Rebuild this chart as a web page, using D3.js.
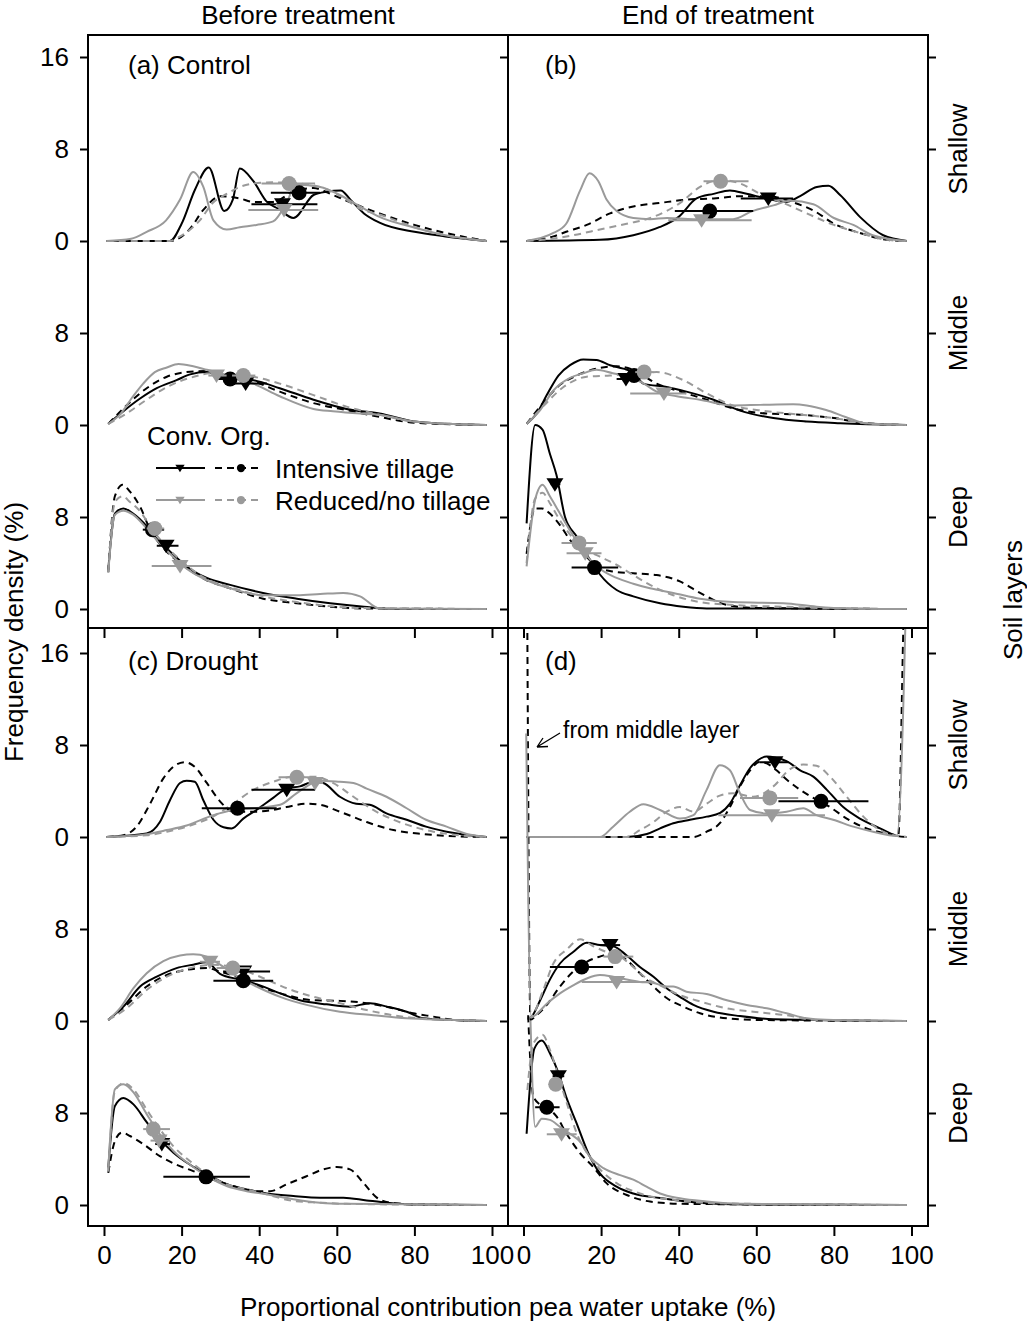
<!DOCTYPE html>
<html><head><meta charset="utf-8">
<script src="https://cdn.jsdelivr.net/npm/d3@7"></script>
<style>
body{margin:0;background:#fff}
svg{display:block}
text{font-family:"Liberation Sans",Arial,Helvetica,sans-serif;fill:#000}
</style>
</head><body>
<svg id="c" width="1027" height="1325"></svg>
<script>
// ---------------- DATA (x = % contribution, y = frequency density %) ----------------
const xTicks=[0,20,40,60,80,100];
const yTickVals=[0,8,16,24,32,40,48];
const yTickLabels=["0","8","0","8","0","8","16"];
const layerKeys=["S","M","D"];
const layerNames=["Shallow","Middle","Deep"];
const layerOffsets=[32,16,0];
const seriesKeys=["CI","OI","CR","OR"];
const colTitles=["Before treatment","End of treatment"];
const panelLabels=["(a) Control","(b)","(c) Drought","(d)"];
const legendTitle="Conv. Org.";
const legendRows=["Intensive tillage","Reduced/no tillage"];

// Panel (a) Control, before treatment
const aS_CI=[[0.7,0],[10,0],[17,0],[20,1.5],[23.5,4.5],[27,6.4],[31,2.6],[33.2,3.6],[35,6.3],[38.5,5.2],[42,3.4],[45,2.8],[48.8,2.0],[54,4.0],[57.5,4.3],[61,4.4],[63.5,3.6],[67,2.4],[71,1.6],[80,0.8],[88,0.4],[98.6,0]];
const aS_OI=[[0.7,0],[17,0],[22,1.0],[25.6,2.7],[30,3.9],[35,3.7],[38.5,3.4],[43.6,3.4],[48.8,4.3],[54,4.6],[59,4.0],[64,3.3],[71,2.4],[80,1.4],[88,0.7],[98.6,0]];
const aS_CR=[[0.7,0],[7,0.2],[11,0.8],[16,1.8],[19.6,3.6],[23,6.0],[25.6,4.7],[28.2,1.8],[31.6,1.0],[35,1.2],[39.3,1.4],[43.6,1.7],[47,3.3],[49.5,4.9],[55.7,4.7],[60.8,4.0],[66,3.0],[71,2.1],[79.7,1.2],[88,0.5],[98.6,0]];
const aS_OR=[[0.7,0],[17,0],[19.6,0.4],[24.7,1.8],[28,3.3],[31.6,4.1],[35,4.7],[38.5,5.0],[43.6,5.1],[50.5,5.0],[55.7,4.7],[61,3.9],[66,2.8],[71,2.3],[80,1.2],[88,0.5],[98.6,0]];
const aM_CI=[[1.1,0.1],[5,1.2],[9.3,2.3],[13.6,3.2],[18.7,3.9],[22.2,4.4],[26.5,4.6],[30,4.2],[38.5,3.9],[45.3,3.2],[54,2.2],[62.5,1.4],[71,1.0],[80,0.3],[88,0.1],[98.6,0]];
const aM_OI=[[1.1,0.1],[5.8,1.7],[11,3.2],[16.2,4.2],[21.3,4.6],[26.5,4.7],[30,4.4],[38.5,3.8],[45.3,2.9],[54,1.9],[62.5,1.3],[71,0.7],[80,0.2],[98.6,0]];
const aM_CR=[[1.1,0.1],[4.1,0.9],[7.5,2.5],[10.1,3.6],[13.1,4.6],[16.2,5.0],[19.2,5.3],[23,5.1],[26.5,4.8],[29.9,4.5],[38.5,3.6],[45.3,2.5],[54,1.4],[59,1.2],[66,1.0],[71,0.9],[79.7,0.3],[88,0.1],[98.6,0]];
const aM_OR=[[1.1,0.1],[5.8,1.0],[11,2.2],[16.2,3.3],[22.2,4.1],[28.2,4.5],[36.8,4.3],[45.3,3.6],[54,2.6],[62.5,1.6],[71,0.9],[80,0.3],[98.6,0]];
const aD_CI=[[1.1,3.4],[2.8,8.3],[5,8.75],[7.5,8.3],[11,7.2],[13.6,6.1],[17,5.0],[21.3,3.7],[26.5,2.7],[32.5,2.1],[41,1.4],[49.7,0.9],[58.3,0.5],[67,0.2],[75.4,0],[98.6,0]];
const aD_OI=[[1.1,3.2],[2.8,9.8],[4.8,10.8],[6.7,10.2],[9.3,8.9],[11.9,6.9],[15.3,5.3],[19.6,4.0],[26.5,2.5],[32.5,1.8],[41,0.9],[49.7,0.5],[58.3,0.2],[67,0.05],[98.6,0]];
const aD_CR=[[1.1,3.2],[2.8,8.2],[5,8.55],[7.5,8.2],[11,7.0],[13.6,6.0],[17,4.8],[21.3,3.5],[26.5,2.5],[32.5,1.8],[41,1.2],[49.7,1.2],[55.7,1.3],[61.7,1.4],[66,1.1],[71,0.05],[98.6,0]];
const aD_OR=[[1.1,3.2],[2.8,9.3],[4.8,9.8],[6.7,9.3],[9.3,8.5],[11.9,7.2],[15.3,5.7],[19.6,4.3],[26.5,2.6],[32.5,1.9],[41,1.1],[49.7,0.6],[58.3,0.25],[67,0.08],[98.6,0]];

// Panel (b) Control, end of treatment
const bS_CI=[[0.8,0],[19.7,0.1],[28.3,0.5],[35,1.2],[40,2.1],[44.6,3.7],[49,4.1],[53.2,4.4],[57.5,4.1],[62.7,3.7],[67.8,3.4],[71.3,3.9],[75.6,4.7],[78.6,4.8],[81.6,4.0],[86.7,2.1],[92.7,0.5],[98.8,0]];
const bS_OI=[[0.8,0],[7.7,0.4],[11,0.8],[16.3,1.4],[22.3,2.4],[28.3,3.0],[35,3.3],[42,3.6],[49,3.7],[55.8,3.9],[62.8,3.9],[70,3.3],[75,2.6],[80,1.5],[86.7,0.7],[93.6,0.1],[98.8,0]];
const bS_CR=[[0.8,0],[7.7,0.7],[11,1.5],[14.6,4.4],[17,5.9],[19.3,5.2],[21.4,3.6],[24,2.6],[28.3,2.0],[32.6,1.9],[37,2.0],[43.8,1.9],[54,1.9],[59,2.6],[64.4,3.1],[68.7,3.5],[74.7,3.2],[80,2.0],[85,1.4],[90,0.5],[98.8,0]];
const bS_OR=[[0.8,0],[7.7,0.2],[12.8,0.5],[19.7,1.0],[26.6,1.5],[33.5,2.1],[40.3,3.3],[45.5,4.7],[50.6,5.3],[55.8,5.0],[61,4.1],[67,3.3],[73,2.4],[80,1.4],[86.7,0.7],[93.6,0.1],[98.8,0]];
const bM_CI=[[0.8,0.1],[3.4,1.0],[6,2.6],[9,4.3],[12,5.2],[15.4,5.7],[18.8,5.65],[22.3,5.2],[25.7,4.9],[28.3,4.6],[30.9,3.6],[36.9,3.3],[42,2.9],[49,2.2],[55.8,1.25],[64.4,0.6],[73,0.3],[81.6,0.15],[98.8,0]];
const bM_OI=[[0.8,0.1],[5,1.9],[9.4,3.5],[13.7,4.3],[18.8,4.9],[24,5.1],[28.3,4.8],[34.3,3.6],[39.5,3.0],[47.2,2.2],[54,1.45],[62.7,1.0],[71.3,0.9],[80,0.6],[88.4,0.15],[98.8,0]];
const bM_CR=[[0.8,0.1],[4.3,1.3],[7.7,3.0],[12,4.1],[15.4,4.5],[18.8,4.8],[23,4.5],[27.4,4.2],[31,3.6],[34.3,2.9],[39.5,2.5],[45.5,2.2],[54,1.7],[61,1.75],[69.5,1.8],[73,1.7],[78,1.3],[83,0.7],[88,0.15],[98.8,0]];
const bM_OR=[[0.8,0.1],[5,1.6],[10.3,3.3],[16.3,4.2],[22.3,4.3],[28.3,4.5],[34.3,4.6],[41.2,3.9],[47.2,2.75],[54,1.7],[62.7,1.2],[71.3,0.9],[80,0.6],[88.4,0.15],[98.8,0]];
const bD_CI=[[0.8,7.45],[3,16.0],[4.9,15.6],[6.8,13.5],[8.5,11.65],[10.7,8.0],[13.7,6.3],[17.1,4.3],[19.7,3.0],[24,1.65],[28.3,1.1],[35.2,0.5],[41.2,0.2],[47.2,0.05],[98.8,0]];
const bD_OI=[[0.8,4.8],[3,8.75],[4.7,8.75],[6.8,8.3],[9.4,7.3],[12,6.0],[15.4,4.85],[18.9,3.7],[23.1,3.25],[28.3,3.1],[34.3,2.95],[40.3,2.4],[45.5,1.4],[52.4,0.35],[59.2,0.1],[98.8,0]];
const bD_CR=[[0.8,3.7],[3,9.5],[4.9,10.8],[6.8,9.8],[9.4,8.3],[12.4,6.6],[15.4,5.0],[19.7,3.5],[24,2.7],[28.3,2.2],[32.6,1.8],[38.6,1.4],[45.5,0.9],[54,0.6],[67,0.5],[75.5,0.2],[84,0.05],[98.8,0]];
const bD_OR=[[0.8,4.0],[3,9.6],[4.9,10.1],[6.8,9.2],[9.4,7.7],[12.4,6.3],[15.4,5.3],[19.7,4.55],[23.1,4.0],[28.3,2.95],[32.6,2.1],[38.6,1.2],[45.5,0.6],[54,0.35],[67,0.2],[80,0.05],[98.8,0]];

// Panel (c) Drought, before treatment
const cS_CI=[[0.7,0],[11,0.3],[14.4,1.3],[17,3.2],[19.6,4.7],[21.3,4.9],[23.4,4.8],[25.6,3.2],[28.2,1.5],[30.8,0.85],[32.9,0.75],[35.9,1.6],[39.3,2.35],[43.6,3.4],[47,4.2],[50.5,4.4],[54,4.8],[56.5,4.7],[60.8,3.5],[65,2.9],[68.5,2.8],[72.8,2.05],[78,1.5],[83,0.9],[88.3,0.46],[98.6,0]];
const cS_OI=[[0.7,0],[5,0.15],[8.4,0.9],[11.9,2.9],[15.3,5.1],[18.7,6.3],[20.9,6.5],[23.4,6.1],[26.5,4.7],[29.9,3.1],[33.3,2.2],[38.5,2.2],[43.6,2.35],[47,2.6],[52.2,2.9],[55.7,2.8],[60.8,2.2],[67.7,1.3],[74.6,0.6],[82.3,0.26],[88.3,0.1],[98.6,0]];
const cS_CR=[[0.7,0],[11,0.25],[16.2,0.6],[21.3,1.0],[28.2,1.9],[33.3,2.35],[38.5,2.5],[45.4,2.8],[49.6,3.8],[55.7,4.9],[60.8,4.8],[64.3,4.7],[67.7,4.2],[72.8,3.5],[78,2.5],[83,1.5],[88.3,0.9],[93.5,0.26],[98.6,0]];
const cS_OR=[[0.7,0],[11,0.15],[16.2,0.46],[21.3,0.9],[28.2,1.8],[33.3,2.9],[38.5,4.1],[43.6,4.8],[48.8,5.25],[54,5.25],[59,4.7],[64.3,3.5],[69.4,2.35],[74.6,1.5],[79.7,0.9],[84.9,0.46],[91.7,0.15],[98.6,0]];
const cM_CI=[[1.1,0.1],[5,1.25],[9.3,3.0],[13.6,3.85],[18.7,4.6],[23,4.9],[26.5,5.1],[29.9,4.1],[35,3.6],[40.2,3.1],[45.4,2.4],[50.5,1.8],[57.4,1.45],[63.4,1.25],[68.6,1.55],[72.9,1.25],[78,0.8],[82.3,0.23],[88.3,0.1],[98.6,0]];
const cM_OI=[[1.1,0.1],[5.8,1.4],[11,3.0],[16.2,4.0],[21.3,4.45],[26.5,4.6],[29.9,4.3],[34.2,3.85],[40.2,3.0],[47.1,2.25],[54,1.8],[60.8,1.75],[67.7,1.55],[74.6,1.1],[79.7,0.67],[84.9,0.38],[90,0.1],[98.6,0]];
const cM_CR=[[1.1,0.1],[4.1,1.1],[7.6,2.85],[11,4.15],[15.3,5.2],[19.6,5.7],[23,5.8],[26.5,5.6],[29.9,4.9],[34.2,3.9],[39.3,3.0],[45.4,2.1],[52.2,1.4],[60.8,0.8],[69.4,0.5],[78,0.23],[88.3,0.1],[98.6,0]];
const cM_OR=[[1.1,0.1],[5.8,1.1],[11,2.7],[16.2,3.85],[22.2,4.6],[28.2,4.9],[34.2,4.6],[40.2,3.85],[47.1,2.85],[54,2.1],[60.8,1.55],[67.7,0.95],[74.6,0.5],[81.4,0.23],[98.6,0]];
const cD_CI=[[1.1,3.25],[2.8,8.6],[5,9.3],[7.6,8.75],[11,7.2],[14.4,5.7],[17.9,4.55],[22.2,3.5],[26.5,2.7],[31.6,1.8],[36.8,1.36],[41.9,1.0],[48.8,0.78],[55.7,0.64],[61.7,0.64],[67.7,0.4],[72.9,0.2],[80,0.05],[98.6,0]];
const cD_OI=[[1.1,2.8],[2.8,5.55],[4.6,6.3],[6.7,6.0],[10.1,5.3],[14.4,4.25],[18.7,3.5],[23,2.95],[28.2,2.2],[33.3,1.65],[38.5,1.2],[42.8,1.2],[47.1,1.8],[52.2,2.5],[56.5,3.1],[60,3.3],[63.4,3.1],[66.8,1.95],[70.3,0.64],[73.7,0.2],[80,0.05],[98.6,0]];
const cD_CR=[[1.1,3.1],[2.8,10.05],[5,10.5],[7.6,9.8],[11,7.9],[14.4,6.15],[17.9,4.7],[22.2,3.5],[26.5,2.5],[31.6,1.65],[36.8,1.2],[41.9,0.93],[48.8,0.5],[55.7,0.2],[62.5,0.1],[98.6,0]];
const cD_OR=[[1.1,2.9],[2.8,9.9],[5,10.6],[7.6,10.05],[11,8.3],[14.4,6.6],[17.9,5.1],[22.2,3.8],[26.5,2.7],[31.6,1.8],[36.8,1.36],[41.9,0.93],[48.8,0.35],[55.7,0.2],[62.5,0.1],[98.6,0]];

// Panel (d) Drought, end of treatment
const dS_CI=[[0.8,0],[26.6,0],[31.8,0.26],[35.2,0.75],[38.6,1.2],[42.9,1.5],[47.2,1.77],[50.7,2.1],[53.2,2.9],[55.8,4.5],[58.4,6.0],[60.5,6.7],[62.7,7.0],[65,6.9],[67.8,6.6],[71.3,5.8],[74.7,5.25],[78.2,4.1],[82.4,2.6],[86.7,1.6],[91.9,0.75],[96.2,0.1],[98.8,0]];
const dS_OI=[[0.8,0],[43.8,0],[47.2,0.46],[50.6,1.2],[53.2,2.6],[55.8,4.4],[58.4,5.8],[61,6.55],[62.7,6.4],[65.2,5.8],[67.8,5.0],[71.3,4.1],[74.7,3.4],[79,2.6],[83.3,1.6],[88.4,0.75],[94.4,0.26],[96.6,0.15],[97.9,18.2],[98.5,26]];
const dS_CR=[[0.8,0],[19.7,0],[23.1,0.9],[27.4,2.2],[30.9,2.85],[35.2,2.35],[40.3,1.6],[43.8,1.9],[47.2,4.1],[50.6,6.25],[53.2,5.8],[55.8,3.8],[58.4,2.35],[62.7,2.05],[67.8,2.2],[72.1,2.5],[75.5,1.9],[79.8,1.5],[85,0.9],[90.1,0.46],[96.2,0.1],[98.4,18.2],[98.9,26]];
const dS_OR=[[0.8,0],[26.6,0],[30,0.6],[33.5,1.3],[36.9,2.2],[40.3,2.6],[43.8,2.2],[47.2,2.9],[50.6,3.6],[54,3.8],[59.2,3.5],[64.4,4.4],[68.7,5.9],[72.1,6.3],[75.5,6.2],[79,5.25],[83.3,3.5],[87.6,1.77],[91.9,0.6],[97,0.05],[98.8,0]];
const dM_CI=[[1.0,0.2],[2.1,0.38],[4.3,1.8],[6.8,3.6],[9.4,5.0],[12.8,6.0],[16.3,6.8],[19.7,6.6],[23.1,6.5],[26.6,5.7],[30,4.7],[33.5,3.85],[36.9,2.85],[40.3,2.1],[43.8,1.4],[49,0.8],[55.8,0.43],[64.4,0.15],[98.8,0]];
const dM_OI=[[0.9,40],[1.8,0.1],[3,0.4],[6,1.4],[9.4,3.0],[12.8,4.3],[16.3,5.15],[19.7,5.6],[23.1,5.9],[26.6,5.3],[30,4.15],[33.5,3.0],[36.9,2.0],[41.2,1.25],[45.5,0.67],[52.4,0.23],[59.2,0.1],[98.8,0]];
const dM_CR=[[0.7,25],[2,0.3],[3,0.5],[6,1.5],[9.4,2.4],[12.8,3.1],[16.3,3.7],[19.7,4.0],[23.1,3.85],[26.6,3.6],[30,3.4],[33.5,3.3],[36.9,3.0],[38.6,3.0],[42,2.55],[47.2,2.35],[52.4,1.8],[57.5,1.4],[62.7,1.1],[67.8,0.67],[73,0.23],[78,0.1],[98.8,0]];
const dM_OR=[[1.0,0.2],[2.1,0.38],[5.1,2.7],[7.7,5.0],[11.1,6.2],[14.6,7.1],[18,6.5],[21.4,6.0],[24.9,5.6],[28.3,4.7],[31.7,3.7],[35.2,3.1],[40.3,2.25],[45.5,1.7],[52.4,1.1],[59.2,0.8],[67.8,0.5],[74.7,0.1],[98.8,0]];
const dD_CI=[[0.8,6.2],[2.8,13.6],[4.7,14.3],[6.8,13.2],[9,11.5],[11,9.4],[13.7,7.1],[16.7,4.5],[19.7,2.75],[24,1.6],[28.3,1.0],[35.2,0.6],[42,0.3],[54,0.06],[98.8,0]];
const dD_OI=[[1.2,16.5],[2.5,9.5],[4,8.8],[6,8.5],[8.5,7.7],[11.1,6.2],[14.6,4.5],[18,3.3],[21.4,1.9],[26.6,0.87],[32.6,0.3],[41,0.1],[98.8,0]];
const dD_CR=[[1.8,16],[3,6.8],[4.7,7.5],[6.8,7.4],[9.4,6.8],[12,6.2],[14.6,5.5],[17.1,4.2],[20.6,3.2],[24.9,2.6],[28.3,2.2],[31.7,1.6],[35.2,1.0],[40.3,0.58],[47.2,0.3],[56,0.1],[98.8,0]];
const dD_OR=[[1.0,10],[2.5,14.0],[4.9,14.8],[6.8,13.5],[9,11.2],[11.5,8.5],[14,6.0],[17,4.2],[20,3.0],[24,1.9],[30,1.0],[40,0.4],[50,0.15],[98.8,0]];

// Means with horizontal error bars: [layer, series, mean, density, low, high]
const aMarkers=[["S","CI",46.0,3.2,38.0,55.0],["S","OI",50.3,4.2,43.0,55.7],["S","CR",46.4,2.7,37.2,55.2],["S","OR",47.7,5.0,40.6,54.4],
 ["M","CI",36.5,3.6,33.0,42.0],["M","OI",32.5,4.0,29.0,36.0],["M","CR",29.0,4.3,26.9,31.6],["M","OR",35.9,4.3,33.0,39.0],
 ["D","CI",16.0,5.5,13.6,19.2],["D","OI",12.5,6.9,10.0,15.5],["D","CR",19.6,3.75,12.3,27.7],["D","OR",13.1,7.0,11.0,15.5]];
const bMarkers=[["S","CI",63.1,3.7,56.0,69.5],["S","OI",48.0,2.6,39.0,59.2],["S","CR",45.9,1.8,37.3,58.8],["S","OR",50.8,5.2,46.4,58.0],
 ["M","CI",26.4,4.0,24.0,28.3],["M","OI",28.5,4.3,25.5,32.0],["M","CR",36.2,2.75,27.5,42.0],["M","OR",31.1,4.6,28.8,33.5],
 ["D","CI",8.1,10.85,7.0,9.5],["D","OI",18.3,3.6,12.4,24.4],["D","CR",15.9,4.85,11.1,20.1],["D","OR",14.3,5.75,9.8,18.9]];
const cMarkers=[["S","CI",47.1,4.1,38.0,54.4],["S","OI",34.4,2.5,25.2,44.5],["S","CR",54.4,4.7,52.7,56.5],["S","OR",49.7,5.2,45.0,54.0],
 ["M","CI",36.0,4.3,30.7,42.8],["M","OI",35.9,3.5,28.2,43.6],["M","CR",27.3,5.15,24.7,29.9],["M","OR",33.2,4.6,29.0,37.6],
 ["D","CI",14.9,5.3,13.2,17.0],["D","OI",26.3,2.45,15.3,37.6],["D","CR",14.2,5.6,12.0,17.0],["D","OR",12.7,6.6,10.1,17.0]];
const dMarkers=[["S","CI",64.8,6.5,60.8,68.3],["S","OI",76.7,3.1,65.7,88.9],["S","CR",64.0,1.9,50.2,77.7],["S","OR",63.5,3.4,55.8,70.8],
 ["M","CI",22.3,6.6,19.7,24.9],["M","OI",15.0,4.7,6.8,23.1],["M","CR",24.0,3.4,15.0,33.5],["M","OR",23.6,5.6,20.6,28.3],
 ["D","CI",9.0,11.2,7.5,10.5],["D","OI",6.0,8.5,3.0,9.3],["D","CR",9.8,6.15,6.0,13.7],["D","OR",8.3,10.5,7.0,10.0]];

// ---------------- tables built from the arrays ----------------
const curveTable={aS_CI,aS_OI,aS_CR,aS_OR,aM_CI,aM_OI,aM_CR,aM_OR,aD_CI,aD_OI,aD_CR,aD_OR,
 bS_CI,bS_OI,bS_CR,bS_OR,bM_CI,bM_OI,bM_CR,bM_OR,bD_CI,bD_OI,bD_CR,bD_OR,
 cS_CI,cS_OI,cS_CR,cS_OR,cM_CI,cM_OI,cM_CR,cM_OR,cD_CI,cD_OI,cD_CR,cD_OR,
 dS_CI,dS_OI,dS_CR,dS_OR,dM_CI,dM_OI,dM_CR,dM_OR,dD_CI,dD_OI,dD_CR,dD_OR};
const markerTable={a:aMarkers,b:bMarkers,c:cMarkers,d:dMarkers};

// ---------------- styles & layout ----------------
const GREY="#9a9a9a";
const style={
  CI:{color:"#000",dash:null,shape:"tri"},
  OI:{color:"#000",dash:"7,5",shape:"circ"},
  CR:{color:GREY,dash:null,shape:"tri"},
  OR:{color:GREY,dash:"7,5",shape:"circ"}
};
const colX=[[88,508],[508,928]];
const rowY=[[35,628],[628,1226]];
const xRange=[[104,492],[523.5,911.5]];
const yRange=[[609,57],[1205,653]];
const panels=[{key:"a",col:0,row:0},{key:"b",col:1,row:0},{key:"c",col:0,row:1},{key:"d",col:1,row:1}];

const svg=d3.select("#c");
const FS=26;

function triPath(s){return `M${-8.5*s},${-6*s}L${8.5*s},${-6*s}L0,${7.5*s}Z`;}
function drawMarker(g,shape,color,cx,cy,s){
  if(shape==="tri") g.append("path").attr("d",triPath(s)).attr("transform",`translate(${cx},${cy})`).attr("fill",color);
  else g.append("circle").attr("cx",cx).attr("cy",cy).attr("r",7.5*s).attr("fill",color);
}

const defs=svg.append("defs");

panels.forEach((p,pi)=>{
  const [x0,x1]=colX[p.col],[y0,y1]=rowY[p.row];
  const x=d3.scaleLinear().domain([0,100]).range(xRange[p.col]);
  const y=d3.scaleLinear().domain([0,48]).range(yRange[p.row]);
  defs.append("clipPath").attr("id","clip"+p.key).append("rect").attr("x",x0).attr("y",y0).attr("width",x1-x0).attr("height",y1-y0);
  const g=svg.append("g").attr("clip-path",`url(#clip${p.key})`);

  layerKeys.forEach((L,li)=>{
    const off=layerOffsets[li];
    const line=d3.line().x(d=>x(d[0])).y(d=>y(d[1]+off)).curve(d3.curveMonotoneX);
    seriesKeys.forEach(s=>{
      const data=curveTable[p.key+L+"_"+s];
      g.append("path").attr("d",line(data)).attr("fill","none")
        .attr("stroke",style[s].color).attr("stroke-width",2)
        .attr("stroke-dasharray",style[s].dash).attr("stroke-linejoin","round");
    });
  });
  markerTable[p.key].forEach(m=>{
    const [L,s,mean,dens,lo,hi]=m;
    const off=layerOffsets[layerKeys.indexOf(L)];
    const cy=y(dens+off);
    g.append("line").attr("x1",x(lo)).attr("x2",x(hi)).attr("y1",cy).attr("y2",cy)
      .attr("stroke",style[s].color).attr("stroke-width",2);
    drawMarker(g,style[s].shape,style[s].color,x(mean),cy,1);
  });

  // frame
  svg.append("rect").attr("x",x0).attr("y",y0).attr("width",x1-x0).attr("height",y1-y0)
    .attr("fill","none").attr("stroke","#000").attr("stroke-width",2);

  // y axis left
  svg.append("g").attr("transform",`translate(${x0},0)`)
    .call(d3.axisLeft(y).tickValues(yTickVals).tickSize(8).tickPadding(11)
      .tickFormat((d,i)=>p.col===0?yTickLabels[i]:""));
  // y axis right (right-hand panels)
  if(p.col===1){
    svg.append("g").attr("transform",`translate(${x1},0)`)
      .call(d3.axisRight(y).tickValues(yTickVals).tickSize(8).tickFormat(""));
  }
  // x axis bottom
  svg.append("g").attr("transform",`translate(0,${y1})`)
    .call(d3.axisBottom(x).tickValues(xTicks).tickSize(10).tickPadding(10)
      .tickFormat(d=>p.row===1?d3.format("d")(d):""));

  // panel label
  svg.append("text").attr("x",p.col===0?128:545).attr("y",y0+(p.row===0?39:42))
    .attr("font-size",FS).text(panelLabels[pi]);

  // layer names at right
  if(p.col===1){
    layerNames.forEach((n,li)=>{
      const cy=y(layerOffsets[li]+8);
      svg.append("text").attr("transform",`translate(967,${cy}) rotate(-90)`)
        .attr("text-anchor","middle").attr("font-size",FS).text(n);
    });
  }
});

// axis styling
svg.selectAll(".domain").remove();
svg.selectAll(".tick line").attr("stroke","#000").attr("stroke-width",2);
svg.selectAll(".tick text").attr("font-size",FS).attr("font-family",'"Liberation Sans",Arial,sans-serif').attr("fill","#000");

// column titles
colTitles.forEach((t,i)=>{
  svg.append("text").attr("x",(colX[i][0]+colX[i][1])/2).attr("y",24)
    .attr("text-anchor","middle").attr("font-size",FS).text(t);
});
// axis titles
svg.append("text").attr("x",508).attr("y",1316).attr("text-anchor","middle").attr("font-size",FS)
  .text("Proportional contribution pea water uptake (%)");
svg.append("text").attr("transform","translate(23,632) rotate(-90)").attr("text-anchor","middle")
  .attr("font-size",FS).text("Frequency density (%)");
svg.append("text").attr("transform","translate(1022,600) rotate(-90)").attr("text-anchor","middle")
  .attr("font-size",FS).text("Soil layers");

// annotation in (d)
svg.append("text").attr("x",563).attr("y",738).attr("font-size",23).text("from middle layer");
svg.append("path").attr("d","M560,733L537,747M537,747L548,746.5M537,747L543,738")
  .attr("stroke","#000").attr("stroke-width",1.3).attr("fill","none");

// legend in (a)
const lg=svg.append("g");
lg.append("text").attr("x",147).attr("y",445).attr("font-size",FS).text(legendTitle);
const legendSeries=[["CI","OI"],["CR","OR"]];
const legendY=[468,500];
legendSeries.forEach((pair,ri)=>{
  const ly=legendY[ri];
  const segs=[[156,205,180],[215,262,241]];
  pair.forEach((s,k)=>{
    const [a,b,c]=segs[k];
    lg.append("line").attr("x1",a).attr("x2",b).attr("y1",ly).attr("y2",ly)
      .attr("stroke",style[s].color).attr("stroke-width",2).attr("stroke-dasharray",style[s].dash);
    drawMarker(lg,style[s].shape,style[s].color,c,ly,0.55);
  });
  lg.append("text").attr("x",275).attr("y",ly+10).attr("font-size",FS).text(legendRows[ri]);
});
</script>
</body></html>
